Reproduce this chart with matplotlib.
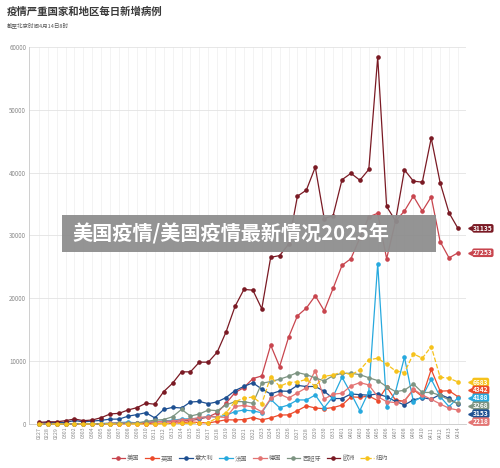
import numpy as np
import matplotlib
matplotlib.use("Agg")
import matplotlib.pyplot as plt
from matplotlib.patches import Rectangle
from matplotlib.lines import Line2D
from matplotlib.transforms import blended_transform_factory

plt.rcParams['font.family'] = ['Noto Sans CJK SC', 'DejaVu Sans']

# data (daily new cases)
dates = ["0227", "0228", "0229", "0301", "0302", "0303", "0304", "0305", "0306", "0307",
         "0308", "0309", "0310", "0311", "0312", "0313", "0314", "0315", "0316", "0317",
         "0318", "0319", "0320", "0321", "0322", "0323", "0324", "0325", "0326", "0327",
         "0328", "0329", "0330", "0331", "0401", "0402", "0403", "0404", "0405", "0406",
         "0407", "0408", "0409", "0410", "0411", "0412", "0413", "0414"]

us = [0, 1, 0, 8, 6, 23, 20, 31, 68, 45, 140, 116, 65, 376, 322, 382, 516, 548, 772, 1133,
      1789, 3300, 5000, 5800, 7230, 7650, 12550, 9140, 13770, 17220, 18450, 20410, 18020,
      21580, 25250, 26320, 29620, 32960, 33540, 26310, 32300, 33900, 36260, 33870, 36150,
      29030, 26430, 27253]
uk = [0, 2, 5, 3, 13, 4, 11, 34, 30, 48, 43, 67, 48, 52, 83, 134, 208, 342, 232, 171,
      407, 676, 643, 714, 1035, 665, 967, 1427, 1452, 2129, 2885, 2546, 2433, 2619, 3009,
      4324, 4244, 4450, 3735, 5903, 3802, 3634, 5491, 4344, 8681, 5233, 5288, 4342]
italy = [78, 250, 238, 240, 566, 342, 466, 587, 769, 778, 1247, 1492, 1797, 977, 2313,
         2651, 2547, 3497, 3590, 3233, 3526, 4207, 5322, 5986, 6557, 5560, 4789, 5249, 5210,
         6153, 5959, 5974, 5217, 4050, 4053, 4782, 4668, 4585, 4805, 4316, 3599, 3039, 3836,
         4204, 3951, 4694, 4092, 3153]
france = [4, 20, 19, 43, 30, 61, 21, 73, 138, 230, 296, 177, 286, 372, 497, 595, 785, 838,
          924, 1210, 1097, 1404, 1970, 2230, 2070, 1800, 3930, 2600, 3030, 3830, 3830, 4611,
          2599, 4376, 7450, 4861, 2130, 5160, 25500, 2760, 5160, 10630, 3560, 4360, 7120,
          4360, 2760, 4188]
germany = [2, 8, 27, 13, 51, 33, 38, 52, 109, 185, 150, 163, 265, 348, 424, 485, 693, 733,
           1043, 1174, 1144, 1042, 2801, 2958, 2705, 1948, 4062, 4764, 4118, 4954, 5780, 8500,
           3965, 4751, 4890, 6060, 6590, 6220, 4360, 3560, 3400, 3720, 5530, 4630, 3930,
           3200, 2500, 2218]
spain = [2, 2, 17, 13, 39, 36, 45, 57, 37, 141, 100, 173, 400, 622, 700, 1160, 2330, 1270,
         1590, 2230, 2120, 3030, 3560, 3560, 3300, 6490, 6750, 7130, 7600, 8190, 7850, 7350,
         6850, 7700, 8070, 8070, 7860, 7360, 6910, 5950, 5160, 5370, 6380, 5020, 5020, 4550,
         3830, 3268]
europe = [250, 350, 350, 530, 800, 530, 640, 1010, 1600, 1700, 2230, 2600, 3300, 3150, 5150,
          6490, 8300, 8300, 9840, 9840, 11430, 14670, 18710, 21420, 21300, 18340, 26530,
          26800, 28600, 36260, 37220, 40880, 32700, 33170, 38880, 39900, 38800, 40510, 58370,
          34620, 32330, 40450, 38650, 38490, 45500, 38400, 33600, 31135]
new_york = [0, 0, 0, 0, 0, 1, 0, 1, 9, 11, 11, 13, 29, 37, 68, 43, 111, 96, 189, 208, 1000,
            1800, 3560, 4100, 4300, 3200, 7550, 6000, 6600, 6700, 7100, 6000, 7600, 7800,
            8300, 7820, 8600, 10210, 10470, 9520, 8450, 8190, 11170, 10470, 12330, 7450,
            7290, 6683]

names = ["美国", "英国", "意大利", "法国", "德国", "西班牙", "欧洲", "纽约"]
series = [us, uk, italy, france, germany, spain, europe, new_york]
colors = ["#c8454e", "#ec4a2b", "#1d4f91", "#27a9de", "#e37473", "#7d9482", "#7a1a24", "#f6c21c"]
styles = ["-", "-", "-", "-", "-", "-", "-", "--"]

x = np.arange(len(dates))

fig = plt.figure(figsize=(5, 4.68), dpi=100)
ax = fig.add_axes([0.058, 0.094, 0.874, 0.8056])

for vals, name, c, ls in zip(series, names, colors, styles):
    ax.plot(x, vals, ls, color=c, lw=0.9, marker="o", ms=2.3, mec=c, mfc=c, label=name,
            clip_on=False, zorder=3)

ax.set_xlim(-1.1, 47.9)
ax.set_ylim(0, 60000)
ax.set_xticks(x)
ax.set_xticklabels(dates, rotation=90, fontsize=3.8, color="#8a8a8a")
ax.set_yticks(np.arange(0, 60001, 10000))
ax.set_yticklabels([str(v) for v in range(0, 60001, 10000)], fontsize=4.5, color="#8a8a8a")
ax.tick_params(length=0, pad=2)
ax.grid(axis="y", color="#e3e3e3", lw=0.6)
ax.grid(axis="x", color="#eeeeee", lw=0.5)
ax.set_axisbelow(True)
for s in ["top", "right"]:
    ax.spines[s].set_visible(False)
ax.spines["left"].set_color("#c8c8c8")
ax.spines["bottom"].set_color("#c8c8c8")
ax.spines["left"].set_linewidth(0.6)
ax.spines["bottom"].set_linewidth(0.6)

# end-of-line value tags, stacked when they crowd each other
trans = blended_transform_factory(ax.transAxes, ax.transData)
ends = sorted([(v[-1], c) for v, c in zip(series, colors)], reverse=True)
gap = 1260
pos = []
for i, (val, c) in enumerate(ends):
    if i > 0 and ends[i - 1][0] - val < 2 * gap:
        pos.append(pos[-1] - gap)
    else:
        pos.append(val)
for (val, c), p in zip(ends, pos):
    ax.text(1.016, p, str(val), transform=trans, ha="left", va="center", fontsize=4.8,
            color="white", fontweight="bold", clip_on=False,
            bbox=dict(boxstyle="round,pad=0.12,rounding_size=0.3", fc=c, ec="none"))
    ax.plot([1.009], [p], marker="<", ms=2.6, color=c, transform=trans, clip_on=False)

handles = [Line2D([0], [0], color=c, ls=ls, lw=0.9, marker="o", ms=2.3)
           for c, ls in zip(colors, styles)]
fig.legend(handles, names, ncol=8, loc="center", bbox_to_anchor=(0.5, 0.0214),
           frameon=False, fontsize=4.5, handlelength=2.2, handletextpad=0.3,
           columnspacing=0.9, labelcolor="#666666")

fig.text(0.014, 0.974, "疫情严重国家和地区每日新增病例", fontsize=7.5, fontweight="bold",
         color="#3a3a3a", va="center")
fig.text(0.014, 0.9455, "截至北京时间4月14日8时", fontsize=4, color="#555555", va="center")

# overlay banner
fig.patches.append(Rectangle((0.124, 0.4615), 0.748, 0.079, transform=fig.transFigure,
                             fc="#8e8e8e", ec="none", alpha=0.95, zorder=10))
fig.text(0.145, 0.501, "美国疫情/美国疫情最新情况2025年", fontsize=14.5, fontweight="bold",
         color="white", va="center", zorder=11)

fig.savefig("out.png", dpi=100)
